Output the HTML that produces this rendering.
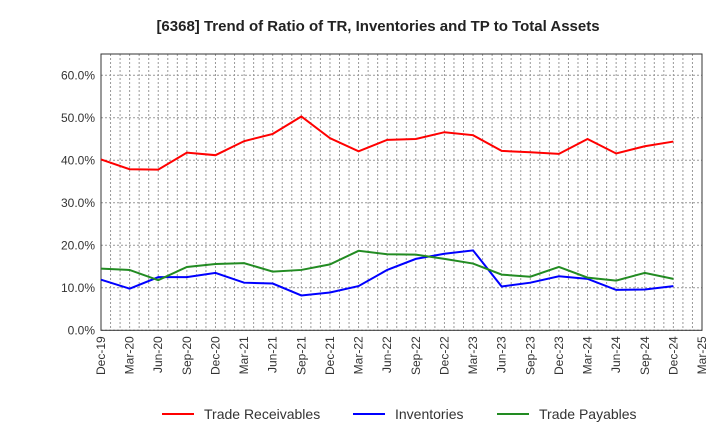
<!DOCTYPE html>
<html><head><meta charset="utf-8"><style>
body{margin:0;background:#fff;font-family:"Liberation Sans",Arial,sans-serif}
</style></head><body>
<svg id="chart" width="720" height="440" xmlns="http://www.w3.org/2000/svg">
<text x="378" y="31" text-anchor="middle" font-size="15" font-weight="bold" fill="#222">[6368]  Trend of Ratio of TR, Inventories and TP to Total Assets</text>
<g id="grid"></g><g id="axes"></g><g id="series"></g><g id="legend"></g>
</svg>
<script>
const categories=["Dec-19","Mar-20","Jun-20","Sep-20","Dec-20","Mar-21","Jun-21","Sep-21","Dec-21","Mar-22","Jun-22","Sep-22","Dec-22","Mar-23","Jun-23","Sep-23","Dec-23","Mar-24","Jun-24","Sep-24","Dec-24","Mar-25"];
const tradeReceivables=[40.2,37.9,37.8,41.8,41.2,44.5,46.2,50.3,45.2,42.1,44.8,45.0,46.6,45.9,42.2,41.9,41.5,45.0,41.6,43.3,44.4];
const inventories=[11.9,9.8,12.5,12.5,13.5,11.2,11.0,8.2,8.9,10.4,14.2,16.8,18.0,18.8,10.3,11.2,12.7,12.1,9.5,9.6,10.4];
const tradePayables=[14.5,14.2,11.8,14.9,15.6,15.8,13.8,14.2,15.5,18.7,17.9,17.8,16.8,15.7,13.1,12.6,14.9,12.4,11.7,13.5,12.1];
const yTicks=[0,10,20,30,40,50,60];
const ns="http://www.w3.org/2000/svg";
const L=101,R=702,T=54,B=330.3,YMAX=65;
const x=i=>L+i*(R-L)/(categories.length-1);
const y=v=>B-v*(B-T)/YMAX;
function mk(tag,attrs,parent){const e=document.createElementNS(ns,tag);for(const k in attrs)e.setAttribute(k,attrs[k]);parent.appendChild(e);return e;}
const grid=document.getElementById('grid'),axes=document.getElementById('axes'),series=document.getElementById('series'),legend=document.getElementById('legend');
for(let m=0;m<=(categories.length-1)*3;m++){
 const g=mk('line',{x1:x(m/3),x2:x(m/3),y1:T,y2:B,stroke:'#999','stroke-dasharray':'2,2','stroke-width':1},grid);
 
 
}
categories.forEach((c,i)=>{
 const t=mk('text',{transform:`translate(${x(i)+4},${B+6}) rotate(-90)`,'text-anchor':'end','font-size':12,fill:'#333'},axes);
 t.textContent=c;
 
 
});
yTicks.forEach(v=>{
 const g=mk('line',{x1:L,x2:R,y1:y(v),y2:y(v),stroke:'#999','stroke-dasharray':'2,2','stroke-width':1},grid);
 
 
 const t=mk('text',{x:L-6,y:y(v)+4,'text-anchor':'end','font-size':12,fill:'#333'},axes);
 t.textContent=v.toFixed(1)+'%';
 
 
});
const frame=mk('rect',{x:L,y:T,width:R-L,height:B-T,fill:'none',stroke:'#333','stroke-width':1},axes);


const defs=[[tradeReceivables,'#ff0000','Trade Receivables','trade-receivables-line'],[inventories,'#0000ff','Inventories','inventories-line'],[tradePayables,'#228b22','Trade Payables','trade-payables-line']];
defs.forEach(([d,col,name,dn])=>{
 const p=mk('polyline',{points:d.map((v,i)=>x(i)+','+y(v)).join(' '),fill:'none',stroke:col,'stroke-width':2},series);
 
 
});
const lx=[162,353,497];
defs.forEach(([d,col,name],k)=>{
 const g=mk('g',{},legend);
 
 
 mk('line',{x1:lx[k],x2:lx[k]+32,y1:414,y2:414,stroke:col,'stroke-width':2},g);
 const t=mk('text',{x:lx[k]+42,y:419,'font-size':14,fill:'#333'},g);
 t.textContent=name;
});
</script>
</body></html>
